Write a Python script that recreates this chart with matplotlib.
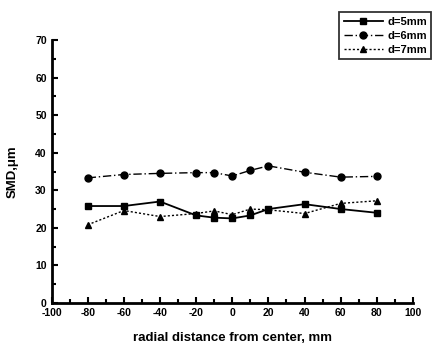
import matplotlib
matplotlib.use("Agg")
import matplotlib.pyplot as plt
from matplotlib.ticker import MultipleLocator

plt.rcParams['font.family'] = ['Liberation Sans', 'DejaVu Sans']
plt.rcParams['font.weight'] = 'bold'
plt.rcParams['axes.unicode_minus'] = False

x = [-80, -60, -40, -20, -10, 0, 10, 20, 40, 60, 80]
d5 = [25.8, 25.8, 27.0, 23.3, 22.7, 22.5, 23.3, 25.0, 26.3, 25.0, 24.0]
d6 = [33.3, 34.2, 34.5, 34.7, 34.7, 33.8, 35.3, 36.5, 34.8, 33.5, 33.7]
d7 = [20.8, 24.6, 23.0, 23.8, 24.5, 23.5, 25.0, 24.8, 23.8, 26.5, 27.2]
labels = ['d=5mm', 'd=6mm', 'd=7mm']

fig = plt.figure(figsize=(4.37, 3.43), dpi=100)
ax = fig.add_axes([0.118, 0.117, 0.827, 0.766])

ax.plot(x, d5, '-', marker='s', color='black', ms=5, lw=1.3, label=labels[0])
ax.plot(x, d6, linestyle=(0, (6, 2, 1, 2)), marker='o', color='black', ms=5, lw=1.0, label=labels[1])
ax.plot(x, d7, linestyle=(0, (1.5, 1.5)), marker='^', color='black', ms=5, lw=1.0, label=labels[2])

ax.set_xlim(-100, 100)
ax.set_ylim(0, 70)
ax.xaxis.set_major_locator(MultipleLocator(20))
ax.xaxis.set_minor_locator(MultipleLocator(10))
ax.yaxis.set_major_locator(MultipleLocator(10))
ax.yaxis.set_minor_locator(MultipleLocator(5))
ax.tick_params(which='both', direction='in', width=1.5, labelsize=7.5)
ax.tick_params(which='major', length=4)
ax.tick_params(which='minor', length=3)
for s in ['top', 'right']:
    ax.spines[s].set_visible(False)
for s in ['left', 'bottom']:
    ax.spines[s].set_linewidth(2)
for lab in ax.get_xticklabels() + ax.get_yticklabels():
    lab.set_fontweight('bold')

ax.set_xlabel('radial distance from center, mm', fontsize=9.5, fontweight='bold', labelpad=10)
ax.set_ylabel('SMD,\u03bcm', fontsize=9.5, fontweight='bold', labelpad=12)

leg = fig.legend(loc='upper right', bbox_to_anchor=(1.0, 0.98), fontsize=8,
                 frameon=True, fancybox=False, edgecolor='black', handlelength=3.5,
                 borderpad=0.4, labelspacing=0.35, handletextpad=0.4)
leg.get_frame().set_linewidth(1.3)
for t in leg.get_texts():
    t.set_fontweight('bold')

fig.savefig('out.png', dpi=100)
